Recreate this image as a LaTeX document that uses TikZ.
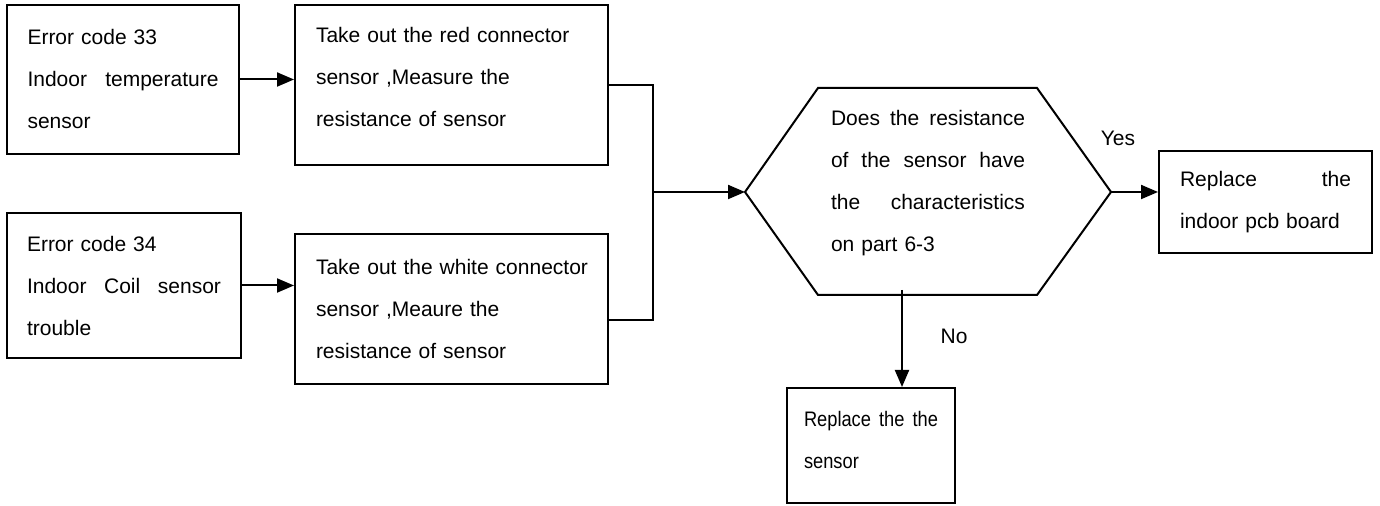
\documentclass[tikz,border=0pt]{standalone}
\usepackage{fontspec}
\setmainfont{Liberation Sans}
\usetikzlibrary{arrows.meta,calc}
\newcommand{\jline}[2]{\leavevmode\hbox to #1{#2}}
\begin{document}
\begin{tikzpicture}[x=0.5pt,y=-0.5pt,
  every node/.style={font=\fontsize{10.5}{21}\selectfont},
  box/.style={draw, line width=1pt, rectangle, align=left, inner xsep=0pt, inner ysep=0pt},
  conn/.style={line width=1pt},
  arr/.style={line width=1pt, -{Triangle[length=8.5pt,width=7pt]}},
  lbl/.style={inner sep=0pt}
]
\useasboundingbox (0,0) rectangle (1380,506);

\node[box, minimum width=116pt, minimum height=74.5pt, text width=95.5pt] (A) at (123,79.5)
  {Error code 33\\\jline{95.5pt}{Indoor\hfill temperature}\\sensor};
\node[box, minimum width=117pt, minimum height=72.5pt, text width=97pt] (C) at (124,285.5)
  {Error code 34\\\jline{97pt}{Indoor\hfill Coil\hfill sensor}\\trouble};
\node[box, minimum width=156.5pt, minimum height=80pt, text width=135.5pt] (B) at (451.5,85)
  {\mbox{Take out the red connector}\\\mbox{sensor ,Measure the}\\\mbox{resistance of sensor}\\[-12.5pt]\mbox{}};
\node[box, minimum width=156.5pt, minimum height=75pt, text width=135.5pt] (D) at (451.5,309)
  {\mbox{Take out the white connector}\\\mbox{sensor ,Meaure the}\\\mbox{resistance of sensor}};

% decision hexagon
\coordinate (hW) at (745,192);
\coordinate (hE) at (1111,192);
\draw[line width=1pt, line join=miter] (hW) -- (818,88) -- (1037,88) -- (hE) -- (1037,295) -- (818,295) -- cycle;
\node[align=left, text width=97pt, inner sep=0pt] (Q) at (928,183)
  {\jline{97pt}{Does\hfill the\hfill resistance}\\\jline{97pt}{of\hfill the\hfill sensor\hfill have}\\\jline{97pt}{the\hfill characteristics}\\on part 6-3};

\node[box, minimum width=106.5pt, minimum height=51pt, text width=85.5pt] (E) at (1265.5,202)
  {\jline{85.5pt}{Replace\hfill the}\\indoor pcb board};
\node[box, minimum width=84pt, minimum height=57.5pt, text width=67pt] (F) at (871,445.5)
  {\scalebox{0.87}[1]{\jline{77pt}{Replace\hfill the\hfill the}}\\\scalebox{0.87}[1]{sensor}\\[-15pt]\mbox{}};

\node[lbl] (yes) at (1118,138) {Yes};
\node[lbl] (no) at (954,336) {No};

% connectors
\draw[arr] (A.east) -- (A.east -| B.west);
\draw[arr] (C.east) -- (C.east -| D.west);
\coordinate (j) at (653,192);
\draw[conn] (B.east) -| (j);
\draw[conn] ($(D.east)+(0,11)$) -| (j);
\draw[arr] (j) -- (hW);
\draw[arr] (hE) -- (hE -| E.west);
\coordinate (ns) at (902,290);
\draw[arr] (ns) -- (ns |- F.north);
\end{tikzpicture}
\end{document}
